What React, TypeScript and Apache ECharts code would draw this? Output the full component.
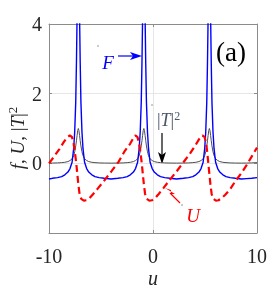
import React, { useEffect, useRef } from "react";
import * as echarts from "echarts";

const uGrid = [
  -10,
  -9.68, -9.18, -8.78, -8.48, -8.18, -7.98, -7.78, -7.63, -7.53, -7.43, -7.36, -7.3, -7.24, -7.18,
  -7.12, -7.06, -7.0, -6.93, -6.83, -6.73, -6.58, -6.38, -6.18, -5.88, -5.58, -5.18, -4.68,
  -4.03,
  -3.38, -2.88, -2.48, -2.18, -1.88, -1.68, -1.48, -1.33, -1.23, -1.13, -1.06, -1.0, -0.94, -0.88,
  -0.82, -0.76, -0.7, -0.63, -0.53, -0.43, -0.28, -0.08, 0.12, 0.42, 0.72, 1.12, 1.62,
  2.27,
  2.92, 3.42, 3.82, 4.12, 4.42, 4.62, 4.82, 4.97, 5.07, 5.17, 5.24, 5.3, 5.36, 5.42,
  5.48, 5.54, 5.6, 5.67, 5.77, 5.87, 6.02, 6.22, 6.42, 6.72, 7.02, 7.42, 7.92,
  8.5, 9.0, 9.5, 10.0,
];

const fValues = [
  -0.45,
  -0.43, -0.41, -0.38, -0.33, -0.25, -0.15, 0.03, 0.42, 0.9, 1.75, 2.9, 4.2, 5.6, 7.0,
  5.6, 4.2, 2.9, 1.75, 0.9, 0.42, 0.03, -0.15, -0.25, -0.33, -0.38, -0.41, -0.43,
  -0.45,
  -0.43, -0.41, -0.38, -0.33, -0.25, -0.15, 0.03, 0.42, 0.9, 1.75, 2.9, 4.2, 5.6, 7.0,
  5.6, 4.2, 2.9, 1.75, 0.9, 0.42, 0.03, -0.15, -0.25, -0.33, -0.38, -0.41, -0.43,
  -0.45,
  -0.43, -0.41, -0.38, -0.33, -0.25, -0.15, 0.03, 0.42, 0.9, 1.75, 2.9, 4.2, 5.6, 7.0,
  5.6, 4.2, 2.9, 1.75, 0.9, 0.42, 0.03, -0.15, -0.25, -0.33, -0.38, -0.41, -0.43,
  -0.45, -0.44, -0.43, -0.41,
];

const tValues = [
  0.007,
  0.008, 0.012, 0.02, 0.03, 0.05, 0.08, 0.13, 0.22, 0.33, 0.5, 0.65, 0.8, 0.94, 1.0,
  0.94, 0.8, 0.65, 0.5, 0.33, 0.22, 0.13, 0.08, 0.05, 0.03, 0.02, 0.012, 0.008,
  0.006,
  0.008, 0.012, 0.02, 0.03, 0.05, 0.08, 0.13, 0.22, 0.33, 0.5, 0.65, 0.8, 0.94, 1.0,
  0.94, 0.8, 0.65, 0.5, 0.33, 0.22, 0.13, 0.08, 0.05, 0.03, 0.02, 0.012, 0.008,
  0.006,
  0.008, 0.012, 0.02, 0.03, 0.05, 0.08, 0.13, 0.22, 0.33, 0.5, 0.65, 0.8, 0.94, 1.0,
  0.94, 0.8, 0.65, 0.5, 0.33, 0.22, 0.13, 0.08, 0.05, 0.03, 0.02, 0.012, 0.008,
  0.006, 0.008, 0.012, 0.02,
];

const uRedGrid = [
  -10, -9.5, -9.0, -8.6, -8.3, -8.0, -7.8, -7.65, -7.5, -7.38, -7.28, -7.18, -7.06, -6.9, -6.65,
  -6.4, -6.1, -5.75, -5.3, -4.7, -4.0, -3.3, -2.7, -2.2, -1.9, -1.7, -1.5, -1.35, -1.2, -1.08,
  -0.98, -0.88, -0.76, -0.6, -0.35, -0.1, 0.2, 0.55, 1.0, 1.6, 2.3, 2.9, 3.6, 4.1, 4.45, 4.75,
  4.95, 5.1, 5.22, 5.32, 5.42, 5.52, 5.64, 5.8, 6.05, 6.3, 6.6, 6.95, 7.4, 7.9, 8.5, 9.0, 9.5, 10,
];

const uValues = [
  0.0, 0.2, 0.41, 0.6, 0.73, 0.8, 0.76, 0.6, 0.3, 0.0, -0.3, -0.6, -0.88, -1.02, -1.07,
  -1.06, -1.0, -0.88, -0.72, -0.5, -0.23, 0.05, 0.36, 0.56, 0.72, 0.8, 0.76, 0.6, 0.3, 0.0,
  -0.3, -0.6, -0.88, -1.02, -1.07, -1.06, -1.0, -0.88, -0.71, -0.48, -0.22, 0.02, 0.3, 0.53, 0.7, 0.8,
  0.76, 0.6, 0.3, 0.0, -0.3, -0.6, -0.88, -1.02, -1.07, -1.06, -1.0, -0.9, -0.75, -0.52, -0.28, -0.05, 0.2, 0.45,
];

const xTicks = { min: -10, max: 10, interval: 10 };
const yTicks = { min: -2, max: 4, interval: 2 };

const SERIF = "'Liberation Serif', 'DejaVu Serif', serif";

export default function App() {
  const ref = useRef<HTMLDivElement>(null);
  useEffect(() => {
    if (!ref.current) return;
    const chart = echarts.init(ref.current, undefined, { renderer: "svg" });
    const fData = uGrid.map((u, i) => [u, fValues[i]]);
    const tData = uGrid.map((u, i) => [u, tValues[i]]);
    const rData = uRedGrid.map((u, i) => [u, uValues[i]]);
    const axisGray = "#8c8c8c";
    const labelStyle = { color: "#262626", fontFamily: SERIF, fontSize: 20 };
    chart.setOption({
      animation: false,
      grid: { left: 49, right: 16, top: 24, bottom: 57, containLabel: false },
      xAxis: [
        {
          type: "value",
          ...xTicks,
          axisLine: { show: true, onZero: false, lineStyle: { color: axisGray, width: 1 } },
          axisTick: { show: true, inside: true, length: 3, lineStyle: { color: axisGray } },
          splitLine: { show: true, lineStyle: { color: "#e6e6e6", width: 1 } },
          axisLabel: { ...labelStyle, margin: 13 },
        },
        {
          type: "value",
          position: "top",
          ...xTicks,
          axisLine: { show: true, onZero: false, lineStyle: { color: axisGray, width: 1 } },
          axisTick: { show: true, inside: true, length: 3, lineStyle: { color: axisGray } },
          splitLine: { show: false },
          axisLabel: { show: false },
        },
      ],
      yAxis: [
        {
          type: "value",
          ...yTicks,
          axisLine: { show: true, onZero: false, lineStyle: { color: axisGray, width: 1 } },
          axisTick: { show: true, inside: true, length: 3, lineStyle: { color: axisGray } },
          splitLine: { show: true, lineStyle: { color: "#e6e6e6", width: 1 } },
          axisLabel: {
            ...labelStyle,
            margin: 7,
            formatter: (v: number) => (v === -2 ? "" : String(v)),
          },
        },
        {
          type: "value",
          position: "right",
          ...yTicks,
          axisLine: { show: true, onZero: false, lineStyle: { color: axisGray, width: 1 } },
          axisTick: { show: true, inside: true, length: 3, lineStyle: { color: axisGray } },
          splitLine: { show: false },
          axisLabel: { show: false },
        },
      ],
      series: [
        {
          type: "line",
          data: tData,
          showSymbol: false,
          clip: true,
          lineStyle: { color: "#4d4d4d", width: 1 },
          z: 2,
        },
        {
          type: "line",
          data: fData,
          showSymbol: false,
          clip: true,
          lineStyle: { color: "#0000ff", width: 1.4 },
          z: 3,
        },
        {
          type: "line",
          data: rData,
          showSymbol: false,
          clip: true,
          lineStyle: { color: "#ff0000", width: 2.2, type: [7, 4] },
          z: 4,
        },
      ],
      graphic: [
        {
          type: "text",
          x: 17,
          y: 138,
          rotation: Math.PI / 2,
          style: {
            text: "{i|f}{n|, }{i|U}{n|, |}{i|T}{n||}{s|2}",
            align: "center",
            verticalAlign: "middle",
            fill: "#262626",
            rich: {
              i: { fontFamily: SERIF, fontStyle: "italic", fontSize: 19, fill: "#262626" },
              n: { fontFamily: SERIF, fontSize: 19, fill: "#262626" },
              s: { fontFamily: SERIF, fontSize: 13, fill: "#262626", verticalAlign: "top", padding: [0, 0, 10, 0] },
            },
          },
        },
        {
          type: "text",
          x: 153,
          y: 278,
          style: {
            text: "u",
            align: "center",
            verticalAlign: "middle",
            fontFamily: SERIF,
            fontStyle: "italic",
            fontSize: 20,
            fill: "#262626",
          },
        },
        {
          type: "text",
          x: 231,
          y: 52,
          style: {
            text: "(a)",
            align: "center",
            verticalAlign: "middle",
            fontFamily: SERIF,
            fontSize: 27,
            fill: "#000000",
          },
        },
        {
          type: "text",
          x: 108,
          y: 62,
          style: {
            text: "F",
            align: "center",
            verticalAlign: "middle",
            fontFamily: SERIF,
            fontStyle: "italic",
            fontSize: 19,
            fill: "#0000ff",
          },
        },
        { type: "line", shape: { x1: 118, y1: 56, x2: 134, y2: 56 }, style: { stroke: "#0000ff", lineWidth: 1.2 } },
        { type: "polygon", shape: { points: [[142, 56], [130, 52], [133, 56], [130, 60]] }, style: { fill: "#0000ff" } },
        {
          type: "text",
          x: 157,
          y: 120,
          style: {
            text: "{n||}{i|T}{n||}{s|2}",
            align: "left",
            verticalAlign: "middle",
            fill: "#4a5568",
            rich: {
              i: { fontFamily: SERIF, fontStyle: "italic", fontSize: 18, fill: "#4a5568" },
              n: { fontFamily: SERIF, fontSize: 18, fill: "#4a5568" },
              s: { fontFamily: SERIF, fontSize: 12, fill: "#4a5568", verticalAlign: "top", padding: [0, 0, 9, 0] },
            },
          },
        },
        { type: "line", shape: { x1: 162, y1: 133, x2: 162, y2: 155 }, style: { stroke: "#000000", lineWidth: 1.2 } },
        { type: "polygon", shape: { points: [[162, 164], [158, 152], [162, 155], [166, 152]] }, style: { fill: "#000000" } },
        {
          type: "text",
          x: 193,
          y: 215,
          style: {
            text: "U",
            align: "center",
            verticalAlign: "middle",
            fontFamily: SERIF,
            fontStyle: "italic",
            fontSize: 19,
            fill: "#ff0000",
          },
        },
        { type: "line", shape: { x1: 180, y1: 203, x2: 170, y2: 193 }, style: { stroke: "#ff0000", lineWidth: 1.2 } },
        { type: "polygon", shape: { points: [[165, 188], [175, 194], [171, 194], [171, 190]] }, style: { fill: "#ff0000" } },
        { type: "rect", shape: { x: 97.5, y: 45.5, width: 1, height: 1 }, style: { fill: "#333" } },
        { type: "rect", shape: { x: 151.5, y: 104.5, width: 1, height: 1 }, style: { fill: "#333" } },
        { type: "rect", shape: { x: 181.5, y: 204.5, width: 1, height: 1 }, style: { fill: "#333" } },
      ],
    });
    return () => chart.dispose();
  }, []);
  return <div ref={ref} style={{ position: "fixed", left: 0, top: 0, width: 273, height: 290 }} />;
}
